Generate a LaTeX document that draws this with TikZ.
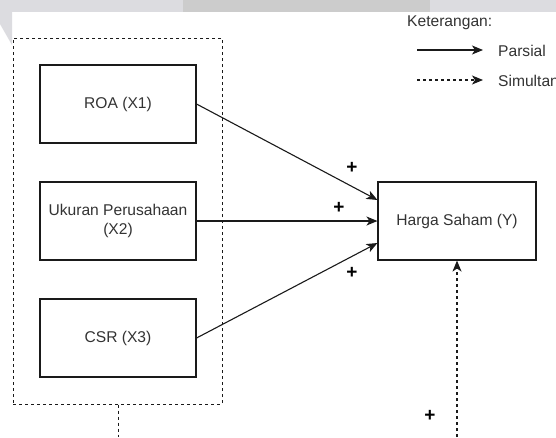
\documentclass[tikz,border=0pt]{standalone}
\usepackage{fontspec}
\setmainfont{Liberation Sans}
\usetikzlibrary{arrows.meta,calc}
\definecolor{txt}{HTML}{333333}
\definecolor{ln}{HTML}{1A1A1A}
\definecolor{band}{HTML}{DCDCE0}
\definecolor{bandd}{HTML}{CCCCCC}
\tikzset{
  varbox/.style={draw=ln, line width=1.1pt, minimum width=156pt, minimum height=78pt, inner sep=2pt, align=center, text=txt, font=\fontsize{15.6}{18.8}\selectfont},
  grpbox/.style={draw=ln, line width=1pt, dash pattern=on 3pt off 3pt, minimum width=209pt, minimum height=366pt, inner sep=0pt},
  parsial/.style={draw=ln, line width=1.1pt, -{Stealth[length=11pt,width=9pt,inset=3pt]}},
  simul/.style={draw=ln, line width=1.1pt, dash pattern=on 3pt off 3pt, -{Stealth[length=11pt,width=9pt,inset=3pt]}},
  plus/.style={text=black, font=\fontsize{19}{20}\selectfont\bfseries, inner sep=0pt},
  lbl/.style={text=txt, font=\fontsize{15.6}{18}\selectfont, inner sep=0pt},
}
\begin{document}
\begin{tikzpicture}[x=1pt,y=-1pt]
\useasboundingbox (0,0) rectangle (556,437);
\fill[white] (0,0) rectangle (556,437);
% page band
\fill[band] (0,0) rectangle (556,12);
\fill[bandd] (183,0) rectangle (430,12);
\fill[band] (0,12) -- (12,12) -- (12,45) -- (0,24) -- cycle;

\node[grpbox] (grp) at (117.5,221) {};
\node[varbox] (roa) at (118,104) {ROA (X1)};
\node[varbox] (uk) at (118,221) {Ukuran Perusahaan\\(X2)};
\node[varbox] (csr) at (118,338) {CSR (X3)};
\node[varbox, minimum width=158pt] (h) at (457,221) {Harga Saham (Y)};

\draw[parsial] (roa.east) -- ($(h.west)+(0,-21)$);
\draw[parsial] (uk.east) -- (h.west);
\draw[parsial] (csr.east) -- ($(h.west)+(0,22)$);

\coordinate (gbot) at (118,437);
\coordinate (hbot) at (457,437);
\draw[ln, line width=1pt, dash pattern=on 3pt off 3pt] (grp.south -| gbot) -- (gbot);
\draw[simul] (hbot) -- (h.south);

\node[plus] (p1) at (352,168) {+};
\node[plus] (p2) at (339,208) {+};
\node[plus] (p3) at (352,273) {+};
\node[plus] (p4) at (430,416) {+};

% legend
\node[lbl, anchor=west] (ket) at (407,23) {Keterangan:};
\coordinate (l1a) at (417,50);
\coordinate (l1b) at (483,50);
\coordinate (l2a) at (417,80);
\coordinate (l2b) at (483,80);
\draw[parsial] (l1a) -- (l1b);
\draw[simul] (l2a) -- (l2b);
\node[lbl, anchor=west] (lp) at (498,51) {Parsial};
\node[lbl, anchor=west] (ls) at (498,81) {Simultan};
\end{tikzpicture}
\end{document}
